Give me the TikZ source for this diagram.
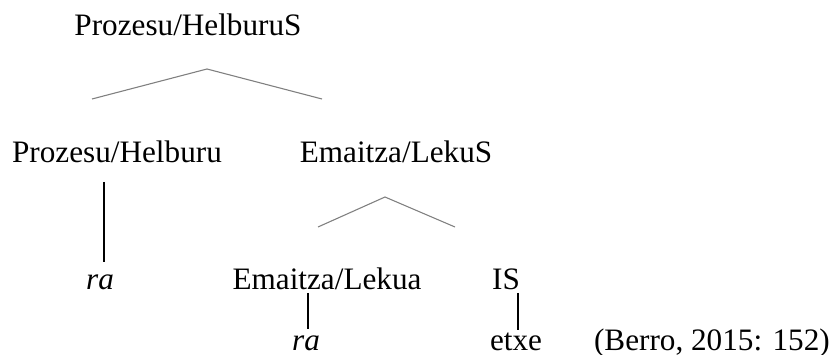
\documentclass[tikz,border=0pt]{standalone}
\usepackage{fontspec}
\setmainfont{Liberation Serif}
\usetikzlibrary{positioning}

\begin{document}
\begin{tikzpicture}[x=0.3205pt,y=-0.3205pt,
                word/.style={anchor=base,inner sep=0pt},
                morph/.style={word,font=\itshape},
                roof/.style={draw=gray,line width=0.35pt},
                stem/.style={draw=black,line width=0.45pt}]
  \useasboundingbox (0,0) rectangle (830,355);

  \node[word] (ps) at (188,36) {Prozesu/HelburuS};
  \node[word] (ph) at (117,163) {Prozesu/Helburu};
  \node[word] (els) at (396,163) {Emaitza/LekuS};
  \node[morph] (ra1) at (100,290) {ra};
  \node[word] (el) at (327,290) {Emaitza/Lekua};
  \node[word] (is) at (506,290) {IS};
  \node[morph] (ra2) at (306,351) {ra};
  \node[word] (etxe) at (516,351) {etxe};
  \node[word] (src) [base right=16.3pt of etxe] {(Berro, 2015: 152)};

  \coordinate (top) at (207,69);
  \coordinate (topl) at (92,99);
  \coordinate (topr) at (322,99);
  \coordinate (mid) at (385,197);
  \coordinate (midl) at (318,227);
  \coordinate (midr) at (455,227);

  \path[roof] (topl) -- (top) -- (topr);
  \path[roof] (midl) -- (mid) -- (midr);

  \path[stem] (104,182) coordinate (s1) -- (104,262) coordinate (e1);
  \path[stem] (308,293) coordinate (s2) -- (308,329) coordinate (e2);
  \path[stem] (518,293) coordinate (s3) -- (518,330) coordinate (e3);
\end{tikzpicture}
\end{document}
